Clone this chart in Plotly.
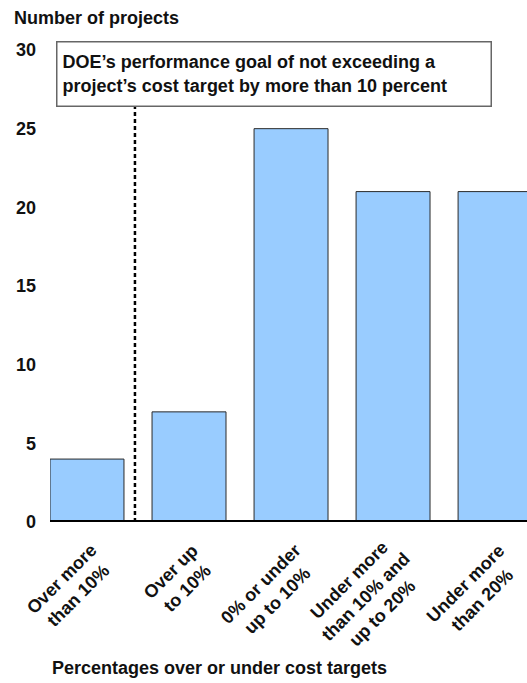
import plotly.graph_objects as go

categories = ["Over more<br>than 10%", "Over up<br>to 10%", "0% or under<br>up to 10%",
              "Under more<br>than 10% and<br>up to 20%", "Under more<br>than 20%"]
values = [4, 7, 25, 21, 21]
y_ticks = [0, 5, 10, 15, 20, 25, 30]
goal_text = "DOE\u2019s performance goal of not exceeding a<br>project\u2019s cost target by more than 10 percent"
y_title = "Number of projects"
x_title = "Percentages over or under cost targets"

FONT = "Liberation Sans, Arial, sans-serif"
xpos = list(range(len(categories)))

fig = go.Figure()
fig.add_trace(go.Bar(
    x=xpos, y=values, width=0.725,
    marker=dict(color="#99CCFF", line=dict(color="#2a2a2a", width=1)),
))

fig.update_layout(
    width=527, height=683,
    margin=dict(l=50, r=0, t=50, b=161),
    paper_bgcolor="white", plot_bgcolor="white",
    showlegend=False,
    font=dict(family=FONT, size=18, color="#111"),
    xaxis=dict(
        range=[-0.3627, 4.313], tickmode="array", tickvals=xpos,
        showticklabels=False, showgrid=False, zeroline=False, showline=False, ticks="",
    ),
    yaxis=dict(
        range=[0, 30], tickmode="array", tickvals=y_ticks,
        showgrid=False, zeroline=False, showline=False, ticks="",
        tickfont=dict(family=FONT, size=18, weight="bold", color="#111"),
        ticklabelstandoff=13,
    ),
)

# thick baseline
fig.add_shape(type="line", xref="paper", yref="y", x0=0, x1=1, y0=0, y1=0,
              line=dict(color="black", width=4))
# dashed goal line
fig.add_shape(type="line", xref="x", yref="y", x0=0.47, x1=0.47, y0=0, y1=26.4,
              line=dict(color="black", width=2.5, dash="4px,3px"), layer="above")

# rotated, centre-aligned category labels
TICK_SIZE = 18
LH = TICK_SIZE * 1.3
for xv, lab in zip(xpos, categories):
    n = lab.count("<br>") + 1
    hb = n * LH
    fig.add_annotation(text=lab, xref="x", yref="paper", x=xv, y=0,
                       xanchor="right", yanchor="top", textangle=-45,
                       align="center", showarrow=False, borderpad=0, borderwidth=0,
                       xshift=13 + 0.354 * hb, yshift=-(35 - 0.354 * hb),
                       font=dict(family=FONT, size=TICK_SIZE, weight="bold", color="#111"))

fig.add_annotation(text=goal_text, xref="paper", yref="paper",
                   x=0.4686, y=0.950, xanchor="center", yanchor="middle",
                   showarrow=False, align="left", bgcolor="white",
                   bordercolor="#666", borderwidth=1.5, borderpad=5,
                   width=423, height=53,
                   font=dict(family=FONT, size=18, weight="bold", color="#111"))

fig.add_annotation(text=y_title, xref="paper", yref="paper",
                   x=-0.0797, y=1.068, xanchor="left", yanchor="middle",
                   showarrow=False,
                   font=dict(family=FONT, size=18, weight="bold", color="#111"))

fig.add_annotation(text=x_title, xref="paper", yref="paper",
                   x=0.0, y=-0.309, xanchor="left", yanchor="middle",
                   showarrow=False,
                   font=dict(family=FONT, size=18, weight="bold", color="#111"))

fig.write_html("out.html")
